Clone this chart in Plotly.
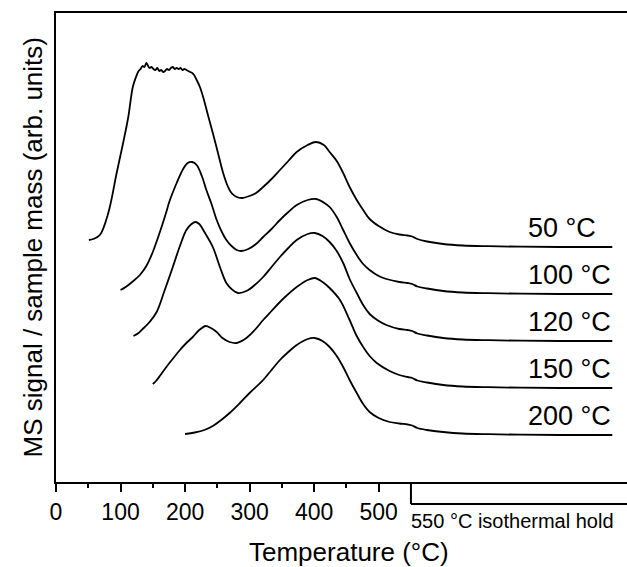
import plotly.graph_objects as go

# ---------------- data ----------------
series_names = ["50 °C", "100 °C", "120 °C", "150 °C", "200 °C"]
offsets = [235, 188, 141, 94, 47]  # vertical stacking offsets (arb. units)

t_50 = [51, 58, 68, 81, 94, 104, 112, 119, 124, 128, 131, 134, 137, 140, 142, 145, 148, 151, 154,
        157, 160, 163, 166, 169, 172, 175, 178, 181, 184, 187, 190, 193, 196, 199, 202, 205, 208,
        211, 214, 218, 223, 228, 235, 243, 251, 259, 266, 272, 280, 288, 300, 310, 321, 334, 347,
        360, 373, 390, 403, 415, 424, 435, 445, 455, 466, 476, 486, 500, 517, 532, 545, 552, 560,
        575, 600, 630, 670, 720, 780, 862]
s_50 = [7, 8, 12, 34, 74, 104, 130, 160, 170, 176, 178, 181, 180, 184, 182, 179, 180, 178, 177,
        179, 176, 177, 175, 176, 178, 177, 179, 180, 178, 179, 178, 179, 177, 178, 177, 176, 175,
        174, 172, 167, 160, 150, 133, 114, 94, 74, 61, 54, 50, 49, 51, 54, 60, 68, 77,
        86, 95, 102, 105, 102, 95, 86, 74, 60, 47, 37, 28, 21, 15, 12.5, 11.5, 10.5, 8,
        5.5, 3, 1.5, 0.8, 0.3, 0, 0]

t_100 = [100, 108, 118, 130, 140, 150, 161, 170, 176, 187, 197, 204, 211, 218, 226, 233, 241, 249,
         257, 264, 272, 280, 287, 298, 310, 321, 334, 347, 360, 373, 390, 403, 416, 424, 435, 445,
         455, 466, 476, 486, 500, 512, 532, 545, 552, 560, 575, 600, 630, 670, 720, 780, 862]
s_100 = [4, 7, 12, 19, 28, 42, 62, 80, 93, 111, 125, 131, 132, 129, 118, 104, 90, 74,
         62, 54, 48, 44, 43, 45, 50, 57, 65, 74, 82, 89, 94, 95, 91, 87, 77, 64,
         51, 39, 30, 24, 18, 15, 12, 11, 10, 7.5, 5.5, 3, 1.5, 0.8, 0.3, 0, 0]

t_120 = [120, 128, 136, 145, 156, 168, 181, 192, 202, 210, 216, 222, 230, 243, 254, 264, 272, 282,
         295, 308, 321, 334, 347, 360, 373, 390, 401, 413, 424, 435, 445, 455, 466, 476, 486, 500,
         512, 532, 545, 552, 560, 575, 600, 630, 670, 720, 780, 862]
s_120 = [5, 8, 13, 19, 29, 50, 74, 95, 111, 117, 119, 117, 109, 94, 74, 58, 52, 48,
         50, 56, 64, 74, 84, 93, 101, 107, 108, 105, 99, 90, 78, 62, 48, 36, 27, 20,
         16, 12, 11, 10, 7.5, 5.5, 3, 1.5, 0.8, 0.3, 0, 0]

t_150 = [150, 155, 162, 171, 182, 192, 202, 212, 222, 232, 240, 249, 258, 269, 280, 295, 308, 321,
         334, 347, 360, 373, 390, 401, 413, 424, 440, 455, 466, 476, 486, 497, 517, 532, 545, 552,
         560, 575, 600, 630, 670, 720, 780, 862]
s_150 = [4, 7, 13, 21, 30, 38, 45, 51, 58, 62, 60, 56, 50, 46, 45, 50, 58, 68,
         77, 86, 94, 101, 108, 110, 106, 100, 88, 68, 52, 41, 32, 25, 17, 13, 11, 10,
         7.5, 5.5, 3, 1.5, 0.8, 0.3, 0, 0]

t_200 = [200, 215, 230, 243, 256, 269, 285, 300, 321, 334, 347, 360, 373, 390, 401, 413, 424, 435,
         445, 455, 466, 476, 486, 500, 517, 532, 545, 552, 560, 575, 600, 630, 670, 720, 780, 862]
s_200 = [1, 2.5, 5, 9, 15, 22, 32, 42, 55, 65, 75, 83, 90, 96, 97, 94, 88, 79,
         68, 55, 42, 31, 23, 17, 13, 11.5, 10.5, 9.5, 7, 5, 3, 1.5, 0.8, 0.3, 0, 0]

temps = [t_50, t_100, t_120, t_150, t_200]
signals = [s_50, s_100, s_120, s_150, s_200]

x_tick_vals = [0, 100, 200, 300, 400, 500]
x_minor_vals = [50, 150, 250, 350, 450]
hold_start = 550
hold_label = "550 °C isothermal hold"
x_title = "Temperature (°C)"
y_title = "MS signal / sample mass (arb. units)"

# ---------------- figure ----------------
FONT = "Liberation Sans, Arial, sans-serif"
X_MAX = 884.8
Y_MAX = 469

fig = go.Figure()
for name, t, s, off in zip(series_names, temps, signals, offsets):
    fig.add_trace(go.Scatter(
        x=t, y=[v + off for v in s], mode="lines", name=name,
        line=dict(color="black", width=1.8, shape="spline", smoothing=1.0),
        showlegend=False, hoverinfo="skip"))
    fig.add_annotation(x=728, y=off + 19, xref="x", yref="y", text=name,
                       showarrow=False, xanchor="left", yanchor="middle",
                       font=dict(family=FONT, size=27, color="black"))

# isothermal hold bracket
br_y = -22 / 469
fig.add_shape(type="line", xref="x", yref="paper", x0=hold_start, x1=hold_start,
              y0=0, y1=br_y, line=dict(color="black", width=2))
fig.add_shape(type="line", xref="x", yref="paper", x0=hold_start, x1=X_MAX,
              y0=br_y, y1=br_y, line=dict(color="black", width=2))
fig.add_annotation(x=hold_start, y=-38.7 / 469, xref="x", yref="paper", text=hold_label,
                   showarrow=False, xanchor="left", yanchor="middle", xshift=-2,
                   font=dict(family=FONT, size=20, color="black"))

# axis titles
fig.add_annotation(x=(349 - 56) / 571, y=-70 / 469, xref="paper", yref="paper", text=x_title,
                   showarrow=False, xanchor="center", yanchor="middle",
                   font=dict(family=FONT, size=26, color="black"))
fig.add_annotation(x=-24 / 571, y=0.5, xref="paper", yref="paper", text=y_title,
                   showarrow=False, xanchor="center", yanchor="middle", textangle=-90,
                   font=dict(family=FONT, size=26, color="black"))

fig.update_layout(
    width=627, height=567,
    margin=dict(l=56, r=0, t=13, b=85),
    paper_bgcolor="white", plot_bgcolor="white",
    font=dict(family=FONT, size=23, color="black"),
    xaxis=dict(range=[0, X_MAX], showgrid=False, zeroline=False,
               showline=True, mirror=True, linecolor="black", linewidth=2,
               ticks="outside", ticklen=8, tickwidth=2, tickcolor="black",
               tickvals=x_tick_vals, ticktext=[str(v) for v in x_tick_vals],
               tickfont=dict(family=FONT, size=23, color="black"),
               minor=dict(tickvals=x_minor_vals, ticks="outside", ticklen=4,
                          tickwidth=2, tickcolor="black")),
    yaxis=dict(range=[0, Y_MAX], showgrid=False, zeroline=False,
               showline=True, linecolor="black", linewidth=2,
               showticklabels=False, ticks=""),
)

fig.write_html("out.html", config={"displayModeBar": False},
               post_script="document.body.style.margin='0';document.body.style.overflow='hidden';")
